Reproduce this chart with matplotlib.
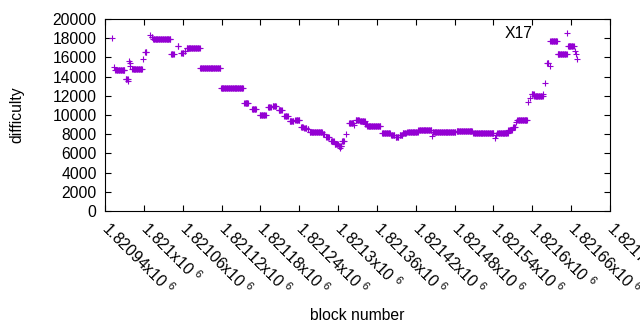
import numpy as np
import matplotlib
matplotlib.use("Agg")
import matplotlib.pyplot as plt
from matplotlib.ticker import FuncFormatter, MultipleLocator

plt.rcParams["font.family"] = ["Liberation Sans", "DejaVu Sans"]
plt.rcParams["mathtext.fontset"] = "custom"
plt.rcParams["mathtext.rm"] = "Liberation Sans"

# difficulty, run-length encoded: first block of each run, run length, value
run_start = [1820951, 1820954, 1820956, 1820972, 1820975, 1820977, 1820978, 1820979,
             1820982, 1820999, 1821002, 1821010, 1821012, 1821014, 1821042, 1821052,
             1821058, 1821063, 1821066, 1821087, 1821119, 1821155, 1821167, 1821179,
             1821192, 1821199, 1821208, 1821217, 1821225, 1821234, 1821243, 1821248,
             1821253, 1821256, 1821277, 1821282, 1821289, 1821295, 1821301, 1821303,
             1821306, 1821313, 1821317, 1821325, 1821327, 1821334, 1821342, 1821345,
             1821368, 1821382, 1821389, 1821395, 1821400, 1821407, 1821424, 1821445,
             1821446, 1821483, 1821509, 1821542, 1821544, 1821546, 1821563, 1821570,
             1821575, 1821577, 1821594, 1821597, 1821599, 1821603, 1821617, 1821619,
             1821623, 1821627, 1821628, 1821639, 1821655, 1821666, 1821667, 1821669]
run_len = [1, 1, 15, 4, 1, 1, 1, 1,
           16, 1, 3, 1, 2, 28, 5, 2,
           4, 2, 21, 32, 35, 7, 7, 10,
           5, 6, 6, 6, 7, 7, 4, 4,
           2, 20, 3, 5, 5, 6, 5, 1,
           4, 1, 7, 1, 6, 8, 3, 21,
           13, 6, 5, 5, 6, 17, 21, 1,
           36, 25, 32, 1, 1, 17, 6, 4,
           1, 16, 1, 1, 4, 14, 1, 1,
           3, 1, 11, 15, 10, 1, 1, 1]
run_diff = [18000, 15000, 14700, 13700, 13500, 15600, 15400, 15100,
            14800, 15800, 16600, 18300, 18100, 17900, 16400, 17200,
            16500, 16700, 17000, 14900, 12800, 11200, 10600, 10000,
            10800, 10900, 10500, 9900, 9400, 9500, 8800, 8600,
            8500, 8200, 8000, 7700, 7300, 7000, 6800, 6600,
            7300, 8000, 9200, 9000, 9500, 9400, 9100, 8900,
            8100, 7900, 7700, 7900, 8100, 8200, 8400, 7800,
            8200, 8300, 8150, 7600, 7900, 8100, 8400, 8700,
            9300, 9500, 11400, 11800, 12200, 12000, 12200, 13300,
            15400, 15100, 17700, 16400, 17200, 16700, 16400, 15800]

blocks = np.concatenate([np.arange(s, s + n) for s, n in zip(run_start, run_len)])
difficulty = np.repeat(run_diff, run_len)

FS = 11.3

fig = plt.figure(figsize=(6.4, 3.3), dpi=100)
ax = fig.add_axes([0.1641, 0.3606, 0.7890, 0.5818])

ax.plot(blocks, difficulty, linestyle="none", marker="+", markersize=5,
        markeredgewidth=0.8, color="#9400d3", label="X17")

ax.set_xlim(1820940, 1821720)
ax.set_ylim(0, 20000)
ax.xaxis.set_major_locator(MultipleLocator(60))
ax.yaxis.set_major_locator(MultipleLocator(2000))
ax.xaxis.set_major_formatter(FuncFormatter(
    lambda v, p: "%gx10 $^{\\mathregular{6}}$" % (v / 1e6)))

ax.tick_params(direction="in", length=4.5, width=0.8, top=True, right=True,
               labelsize=FS, colors="black")
ax.tick_params(axis="y", pad=6)
for lab in ax.get_xticklabels():
    lab.set_rotation(-45)
    lab.set_ha("left")
    lab.set_va("center")
    lab.set_rotation_mode("anchor")
ax.tick_params(axis="x", pad=10)
for sp in ax.spines.values():
    sp.set_linewidth(0.8)

ax.set_xlabel("block number", fontsize=FS, labelpad=7)
ax.set_ylabel("difficulty", fontsize=FS, labelpad=20)

ax.legend(loc="upper right", bbox_to_anchor=(0.9465, 0.962), frameon=False,
          markerfirst=False, fontsize=FS, borderpad=0, borderaxespad=0,
          handlelength=2, handletextpad=1.2, numpoints=1)

fig.savefig("out.png", dpi=100)
